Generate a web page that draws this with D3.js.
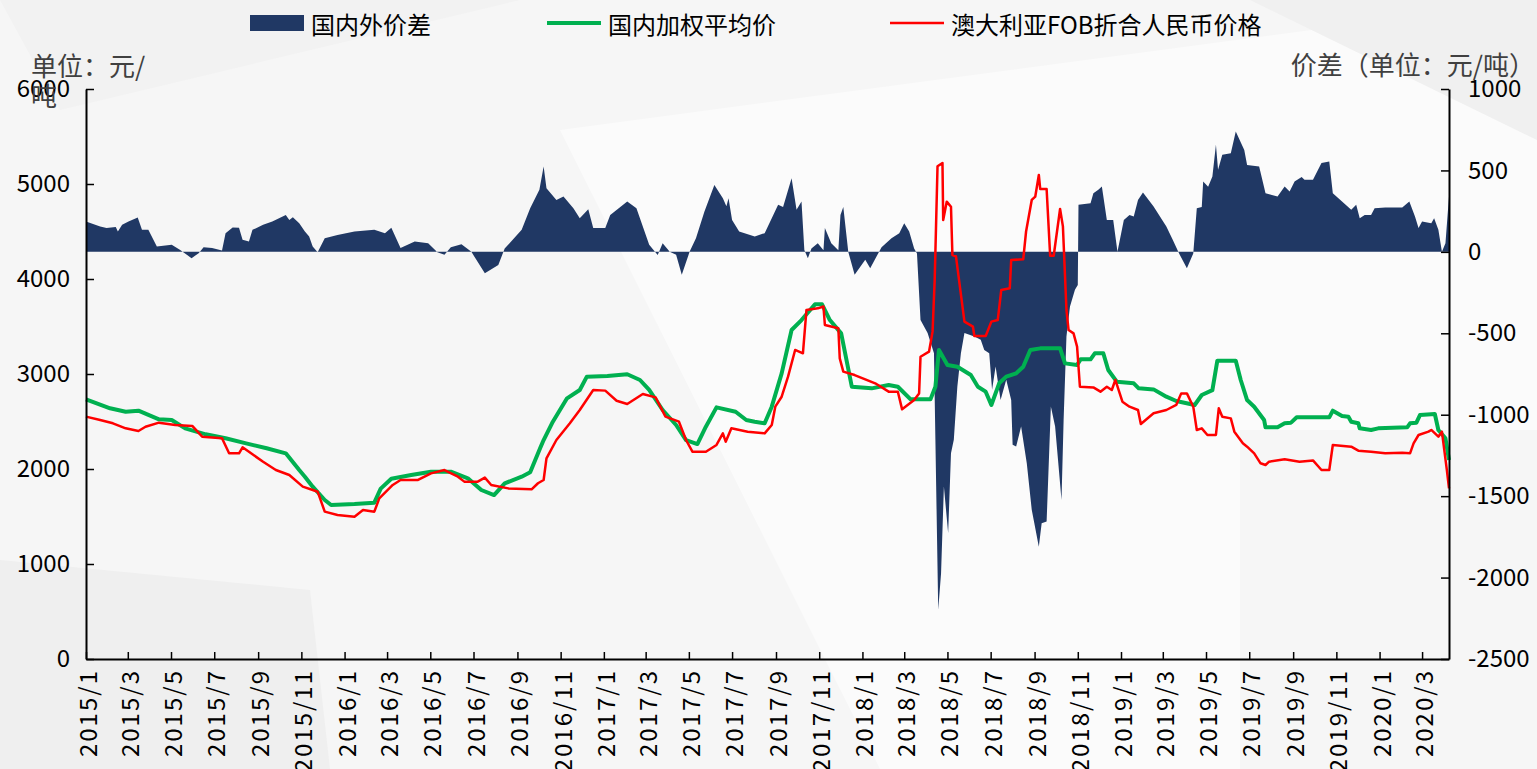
<!DOCTYPE html>
<html>
<head>
<meta charset="utf-8">
<script src="https://cdn.jsdelivr.net/npm/d3@7"></script>
<style>
	body { margin: 0; background: #fff; }
	svg text { font-family: "Noto Sans CJK SC", "Open Sans", sans-serif; }
</style>
</head>
<body>
<svg id="chart" width="1537" height="769"></svg>
<script>

// 国内外价差 (right axis), 国内加权平均价 and 澳大利亚FOB折合人民币价格 (left axis)
const priceGap = [
	["2015-01-01",186],["2015-01-21",155],["2015-01-30",146],["2015-02-12",152],["2015-02-15",125],
	["2015-02-21",166],["2015-03-02",186],["2015-03-15",211],["2015-03-21",135],["2015-03-30",135],
	["2015-04-11",33],["2015-05-02",43],["2015-05-14",12],["2015-05-30",-39],["2015-06-09",-8],
	["2015-06-16",29],["2015-06-28",23],["2015-07-12",8],["2015-07-17",115],["2015-07-27",149],
	["2015-08-05",148],["2015-08-10",74],["2015-08-19",63],["2015-08-24",135],["2015-09-08",166],
	["2015-09-21",186],["2015-10-10",227],["2015-10-15",196],["2015-10-20",213],["2015-10-29",176],
	["2015-11-06",125],["2015-11-12",94],["2015-11-17",33],["2015-11-24",-2],["2015-12-04",84],
	["2015-12-22",104],["2016-01-15",125],["2016-02-12",135],["2016-02-27",115],["2016-03-07",148],
	["2016-03-20",23],["2016-04-09",63],["2016-04-28",53],["2016-05-11",-2],["2016-05-21",-18],
	["2016-05-30",29],["2016-06-14",47],["2016-06-28",0],["2016-07-17",-131],["2016-08-05",-80],
	["2016-08-14",20],["2016-09-07",135],["2016-09-19",268],["2016-10-02",381],["2016-10-08",524],
	["2016-10-12",391],["2016-10-26",319],["2016-11-05",340],["2016-11-19",268],["2016-11-28",207],
	["2016-12-10",262],["2016-12-17",146],["2017-01-03",146],["2017-01-10",227],["2017-02-03",309],
	["2017-02-16",268],["2017-02-25",155],["2017-03-06",43],["2017-03-18",-20],["2017-03-25",53],
	["2017-04-04",0],["2017-04-13",-18],["2017-04-21",-141],["2017-05-02",0],["2017-05-11",84],
	["2017-05-23",248],["2017-06-06",411],["2017-06-18",329],["2017-06-23",280],["2017-06-26",329],
	["2017-07-01",196],["2017-07-11",125],["2017-08-02",94],["2017-08-16",115],["2017-08-26",207],
	["2017-09-04",289],["2017-09-11",276],["2017-09-23",452],["2017-09-30",258],["2017-10-07",309],
	["2017-10-11",12],["2017-10-16",-39],["2017-10-21",20],["2017-10-30",53],["2017-11-07",10],
	["2017-11-09",146],["2017-11-18",53],["2017-11-28",10],["2017-12-01",227],["2017-12-05",276],
	["2017-12-12",0],["2017-12-21",-141],["2018-01-05",-49],["2018-01-12",-100],["2018-01-28",29],
	["2018-02-11",84],["2018-02-22",115],["2018-03-01",176],["2018-03-08",125],["2018-03-15",20],
	["2018-03-19",-10],["2018-03-24",-418],["2018-04-03",-499],["2018-04-12",-622],["2018-04-14",-1154],
	["2018-04-18",-2198],["2018-04-22",-1973],["2018-04-26",-1441],["2018-05-02",-1727],["2018-05-06",-1236],
	["2018-05-10",-1154],["2018-05-15",-827],["2018-05-20",-622],["2018-05-25",-499],["2018-06-08",-520],
	["2018-06-17",-540],["2018-06-22",-602],["2018-06-29",-622],["2018-07-03",-847],["2018-07-08",-704],
	["2018-07-15",-909],["2018-07-23",-786],["2018-07-30",-909],["2018-08-01",-1185],["2018-08-06",-1195],
	["2018-08-13",-1073],["2018-08-21",-1298],["2018-08-28",-1584],["2018-09-07",-1810],["2018-09-11",-1666],
	["2018-09-18",-1656],["2018-09-24",-950],["2018-09-30",-1073],["2018-10-09",-1523],["2018-10-12",-1032],
	["2018-10-16",-520],["2018-10-21",-336],["2018-10-28",-233],["2018-11-01",-203],["2018-11-02",289],
	["2018-11-19",299],["2018-11-23",360],["2018-11-30",381],["2018-12-05",401],["2018-12-12",196],
	["2018-12-21",196],["2018-12-27",0],["2019-01-05",196],["2019-01-13",227],["2019-01-19",217],
	["2019-01-25",319],["2019-02-01",364],["2019-02-16",278],["2019-03-06",155],["2019-03-15",74],
	["2019-03-24",-10],["2019-04-04",-100],["2019-04-13",-10],["2019-04-18",268],["2019-04-25",276],
	["2019-04-27",432],["2019-05-04",400],["2019-05-10",463],["2019-05-15",657],["2019-05-18",504],
	["2019-05-24",596],["2019-06-05",606],["2019-06-12",739],["2019-06-24",626],["2019-06-28",534],
	["2019-07-15",524],["2019-07-24",360],["2019-08-10",340],["2019-08-20",401],["2019-08-27",370],
	["2019-09-03",432],["2019-09-13",459],["2019-09-17",442],["2019-09-29",442],["2019-10-11",545],
	["2019-10-22",555],["2019-10-27",360],["2019-11-09",309],["2019-11-22",258],["2019-11-29",289],
	["2019-12-04",207],["2019-12-11",227],["2019-12-20",227],["2019-12-25",268],["2020-01-09",273],
	["2020-02-02",273],["2020-02-12",309],["2020-02-20",217],["2020-02-25",146],["2020-03-01",186],
	["2020-03-14",176],["2020-03-18",207],["2020-03-24",135],["2020-03-29",0],["2020-04-03",53],
	["2020-04-08",340]
];

const domesticPrice = [
	["2015-01-01",2734],["2015-02-04",2639],["2015-02-26",2603],["2015-03-16",2614],["2015-04-14",2523],
	["2015-05-02",2516],["2015-05-21",2428],["2015-06-19",2365],["2015-07-17",2323],["2015-08-15",2270],
	["2015-09-13",2218],["2015-10-10",2165],["2015-10-29",1989],["2015-11-06",1919],["2015-11-17",1814],
	["2015-12-04",1674],["2015-12-13",1621],["2016-01-15",1632],["2016-02-12",1646],["2016-02-21",1793],
	["2016-03-07",1898],["2016-04-04",1937],["2016-05-02",1972],["2016-05-30",1972],["2016-06-23",1902],
	["2016-07-12",1779],["2016-07-30",1726],["2016-08-14",1849],["2016-09-07",1919],["2016-09-19",1965],
	["2016-10-03",2218],["2016-10-08",2305],["2016-10-21",2498],["2016-11-10",2744],["2016-11-28",2832],
	["2016-12-08",2972],["2017-01-06",2979],["2017-02-03",2997],["2017-02-21",2937],["2017-03-06",2832],
	["2017-03-25",2621],["2017-04-13",2463],["2017-04-27",2305],["2017-05-13",2263],["2017-05-25",2445],
	["2017-06-09",2649],["2017-07-06",2603],["2017-07-21",2516],["2017-08-02",2498],["2017-08-16",2481],
	["2017-08-26",2656],["2017-09-09",3007],["2017-09-23",3463],["2017-10-07",3568],["2017-10-26",3733],
	["2017-11-05",3733],["2017-11-16",3568],["2017-12-02",3428],["2017-12-17",2866],["2018-01-14",2849],
	["2018-02-07",2884],["2018-02-20",2866],["2018-03-10",2733],["2018-04-07",2733],["2018-04-14",2866],
	["2018-04-19",3253],["2018-05-01",3095],["2018-05-15",3077],["2018-06-03",2989],["2018-06-13",2866],
	["2018-06-24",2814],["2018-07-02",2674],["2018-07-13",2902],["2018-07-23",2972],["2018-08-06",3007],
	["2018-08-16",3077],["2018-08-26",3253],["2018-09-09",3270],["2018-10-07",3270],["2018-10-14",3112],
	["2018-10-31",3095],["2018-11-05",3154],["2018-11-19",3154],["2018-11-25",3218],["2018-12-07",3218],
	["2018-12-14",3042],["2018-12-26",2919],["2019-01-19",2902],["2019-01-26",2849],["2019-02-16",2838],
	["2019-03-06",2761],["2019-03-20",2716],["2019-04-15",2674],["2019-04-25",2779],["2019-05-10",2830],
	["2019-05-17",3140],["2019-06-12",3140],["2019-06-19",2937],["2019-06-28",2726],["2019-07-08",2656],
	["2019-07-22",2516],["2019-07-24",2439],["2019-08-10",2439],["2019-08-20",2481],["2019-08-29",2488],
	["2019-09-06",2544],["2019-10-22",2544],["2019-10-27",2614],["2019-11-09",2558],["2019-11-18",2551],
	["2019-11-22",2498],["2019-12-02",2481],["2019-12-04",2428],["2019-12-20",2411],["2019-12-30",2428],
	["2020-02-09",2439],["2020-02-13",2481],["2020-02-22",2488],["2020-02-27",2568],["2020-03-19",2579],
	["2020-03-24",2411],["2020-04-03",2323],["2020-04-08",2095]
];

const fobPrice = [
	["2015-01-01",2551],["2015-01-21",2516],["2015-02-08",2481],["2015-02-26",2428],["2015-03-16",2400],
	["2015-03-26",2445],["2015-04-14",2488],["2015-05-07",2463],["2015-05-31",2453],["2015-06-14",2340],
	["2015-07-12",2323],["2015-07-22",2165],["2015-08-05",2165],["2015-08-10",2228],["2015-08-22",2165],
	["2015-09-08",2077],["2015-09-26",1989],["2015-10-15",1937],["2015-11-03",1814],["2015-11-17",1779],
	["2015-11-24",1761],["2015-12-04",1551],["2015-12-22",1516],["2016-01-15",1498],["2016-01-27",1568],
	["2016-02-12",1551],["2016-02-19",1691],["2016-03-09",1832],["2016-03-20",1884],["2016-04-13",1884],
	["2016-05-02",1954],["2016-05-21",1989],["2016-06-09",1919],["2016-06-18",1867],["2016-07-07",1867],
	["2016-07-17",1909],["2016-07-26",1832],["2016-08-19",1796],["2016-09-21",1786],["2016-09-30",1850],
	["2016-10-08",1884],["2016-10-12",2112],["2016-10-26",2305],["2016-11-14",2481],["2016-11-28",2621],
	["2016-12-17",2832],["2017-01-03",2825],["2017-01-19",2719],["2017-02-03",2684],["2017-02-25",2789],
	["2017-03-15",2754],["2017-03-29",2551],["2017-04-17",2498],["2017-04-27",2305],["2017-05-06",2182],
	["2017-05-25",2182],["2017-06-09",2253],["2017-06-18",2375],["2017-06-22",2288],["2017-06-30",2428],
	["2017-07-23",2393],["2017-08-16",2375],["2017-08-26",2463],["2017-08-31",2656],["2017-09-09",2761],
	["2017-09-18",2972],["2017-09-28",3253],["2017-10-09",3218],["2017-10-14",3674],["2017-10-30",3691],
	["2017-11-07",3711],["2017-11-09",3516],["2017-11-28",3481],["2017-11-30",3165],["2017-12-05",3025],
	["2017-12-21",2989],["2018-01-05",2944],["2018-01-19",2902],["2018-02-07",2814],["2018-02-20",2814],
	["2018-02-26",2628],["2018-03-15",2726],["2018-03-22",2796],["2018-03-24",3182],["2018-04-05",3235],
	["2018-04-10",3446],["2018-04-13",3989],["2018-04-17",5186],["2018-04-24",5221],["2018-04-25",4621],
	["2018-04-30",4814],["2018-05-06",4761],["2018-05-08",4253],["2018-05-13",4240],["2018-05-25",3551],
	["2018-06-06",3498],["2018-06-08",3400],["2018-06-24",3400],["2018-07-02",3551],["2018-07-11",3568],
	["2018-07-16",3884],["2018-07-28",3902],["2018-07-30",4200],["2018-08-16",4207],["2018-08-20",4500],
	["2018-08-28",4832],["2018-09-02",4868],["2018-09-07",5095],["2018-09-09",4947],["2018-09-18",4947],
	["2018-09-23",4245],["2018-09-28",4245],["2018-10-07",4737],["2018-10-11",4554],["2018-10-16",3674],
	["2018-10-19",3463],["2018-10-26",3428],["2018-10-31",3288],["2018-11-04",2866],["2018-11-23",2859],
	["2018-12-03",2814],["2018-12-12",2866],["2018-12-19",2832],["2018-12-24",2937],["2019-01-03",2709],
	["2019-01-13",2656],["2019-01-25",2621],["2019-01-29",2474],["2019-02-16",2586],["2019-03-06",2621],
	["2019-03-20",2674],["2019-03-27",2796],["2019-04-04",2796],["2019-04-13",2656],["2019-04-18",2411],
	["2019-04-25",2428],["2019-05-03",2358],["2019-05-15",2358],["2019-05-19",2639],["2019-05-24",2551],
	["2019-06-05",2533],["2019-06-10",2393],["2019-06-22",2270],["2019-06-28",2235],["2019-07-08",2165],
	["2019-07-17",2060],["2019-07-24",2042],["2019-07-29",2077],["2019-08-20",2102],["2019-09-10",2077],
	["2019-09-29",2090],["2019-10-11",1989],["2019-10-22",1989],["2019-10-27",2253],["2019-11-22",2235],
	["2019-12-02",2193],["2019-12-20",2182],["2020-01-09",2165],["2020-02-02",2172],["2020-02-13",2165],
	["2020-02-18",2270],["2020-02-25",2358],["2020-03-10",2393],["2020-03-14",2411],["2020-03-24",2340],
	["2020-03-29",2393],["2020-04-05",1989],["2020-04-08",1796]
];

const xTickLabels = [
	"2015/1","2015/3","2015/5","2015/7","2015/9","2015/11",
	"2016/1","2016/3","2016/5","2016/7","2016/9","2016/11",
	"2017/1","2017/3","2017/5","2017/7","2017/9","2017/11",
	"2018/1","2018/3","2018/5","2018/7","2018/9","2018/11",
	"2019/1","2019/3","2019/5","2019/7","2019/9","2019/11",
	"2020/1","2020/3"
];
const leftTicks = [0, 1000, 2000, 3000, 4000, 5000, 6000];
const rightTicks = [-2500, -2000, -1500, -1000, -500, 0, 500, 1000];
const dateRange = ["2015-01-01", "2020-04-08"];

const legendLabels = ["国内外价差", "国内加权平均价", "澳大利亚FOB折合人民币价格"];
const leftUnit = ["单位：元/", "吨"];
const rightUnit = "价差（单位：元/吨）";

const colors = { gap: "#203864", domestic: "#00b050", fob: "#ff0000" };

const parseDate = d3.timeParse("%Y-%m-%d");
const parseTick = d3.timeParse("%Y/%m");

const svg = d3.select("#chart");
const W = 1537, H = 769;
const plot = { left: 86, right: 1449, top: 89, bottom: 659 };

// background with soft shapes, like the original slide
svg.append("rect").attr("width", W).attr("height", H).attr("fill", "#f6f6f6");
const bgShapes = [
	{ pts: [[560, 130], [1537, 0], [1537, 430], [1240, 430], [1240, 769], [880, 769]], fill: "#fbfbfb" },
	{ pts: [[1250, 0], [1537, 0], [1537, 140]], fill: "#f0f0f0" },
	{ pts: [[0, 560], [310, 590], [330, 769], [0, 769]], fill: "#efefef" },
	{ pts: [[0, 0], [520, 0], [60, 110]], fill: "#f2f2f2" }
];
svg.append("g").selectAll("polygon")
	.data(bgShapes)
	.enter()
	.append("polygon")
	.attr("points", d => d.pts.map(p => p.join(",")).join(" "))
	.attr("fill", d => d.fill);

// Scales
const x = d3.scaleTime()
	.domain(dateRange.map(parseDate))
	.range([plot.left, plot.right]);

const yLeft = d3.scaleLinear()
	.domain([0, 6000])
	.range([plot.bottom, plot.top]);

const yRight = d3.scaleLinear()
	.domain([-2500, 1000])
	.range([plot.bottom, plot.top]);

// Gap area, drawn from the zero line of the right axis
const gapArea = d3.area()
	.x(d => x(parseDate(d[0])))
	.y0(yRight(0))
	.y1(d => yRight(d[1]));

svg.append("path")
	.datum(priceGap)
	.attr("d", gapArea)
	.attr("fill", colors.gap);

const priceLine = d3.line()
	.x(d => x(parseDate(d[0])))
	.y(d => yLeft(d[1]));

svg.append("path")
	.datum(domesticPrice)
	.attr("d", priceLine)
	.attr("fill", "none")
	.attr("stroke", colors.domestic)
	.attr("stroke-width", 4)
	.attr("stroke-linejoin", "round");

svg.append("path")
	.datum(fobPrice)
	.attr("d", priceLine)
	.attr("fill", "none")
	.attr("stroke", colors.fob)
	.attr("stroke-width", 2.5)
	.attr("stroke-linejoin", "round");

// Axes
const fontSize = 24;
const plainNumber = d => String(d);

const xAxis = svg.append("g")
	.attr("transform", `translate(0,${plot.bottom})`)
	.call(d3.axisBottom(x)
		.tickValues(xTickLabels.map(parseTick))
		.tickSizeInner(-7)
		.tickSizeOuter(0)
		.tickFormat((d, i) => xTickLabels[i]));
xAxis.select(".domain").attr("stroke", "#000").attr("stroke-width", 2);
xAxis.selectAll(".tick line").attr("stroke", "#000").attr("stroke-width", 1.5);
xAxis.selectAll(".tick text")
	.attr("font-size", fontSize)
	.attr("letter-spacing", 2)
	.attr("fill", "#000")
	.attr("text-anchor", "end")
	.attr("dominant-baseline", "central")
	.attr("transform", "rotate(-90)")
	.attr("x", -10)
	.attr("y", 0)
	.attr("dy", null);

const leftAxis = svg.append("g")
	.attr("transform", `translate(${plot.left},0)`)
	.call(d3.axisLeft(yLeft).tickValues(leftTicks).tickFormat(plainNumber)
		.tickSizeInner(-8).tickSizeOuter(0).tickPadding(16));
leftAxis.select(".domain").attr("stroke", "#000").attr("stroke-width", 2);
leftAxis.selectAll(".tick line").attr("stroke", "#000").attr("stroke-width", 1.5);
leftAxis.selectAll(".tick text").attr("font-size", fontSize).attr("fill", "#000");

const rightAxis = svg.append("g")
	.attr("transform", `translate(${plot.right},0)`)
	.call(d3.axisRight(yRight).tickValues(rightTicks).tickFormat(plainNumber)
		.tickSizeInner(-8).tickSizeOuter(0).tickPadding(19));
rightAxis.select(".domain").attr("stroke", "#000").attr("stroke-width", 2);
rightAxis.selectAll(".tick line").attr("stroke", "#000").attr("stroke-width", 1.5);
rightAxis.selectAll(".tick text").attr("font-size", fontSize).attr("fill", "#000");

// Unit labels (the left one wraps onto a second line, as in the original)
const unitSize = 26;
svg.append("text")
	.attr("x", 31).attr("y", 76)
	.attr("font-size", unitSize).attr("fill", "#404040")
	.text(leftUnit[0]);
svg.append("text")
	.attr("x", 31).attr("y", 106)
	.attr("font-size", unitSize).attr("fill", "#404040")
	.text(leftUnit[1]);
svg.append("text")
	.attr("x", 1535).attr("y", 75)
	.attr("text-anchor", "end")
	.attr("font-size", unitSize).attr("fill", "#404040")
	.text(rightUnit);

// Legend
const legend = svg.append("g");
const legendX = [250, 547, 890];
legend.append("rect")
	.attr("x", legendX[0]).attr("y", 15).attr("width", 54).attr("height", 16)
	.attr("fill", colors.gap);
legend.append("line")
	.attr("x1", legendX[1]).attr("x2", legendX[1] + 54).attr("y1", 23).attr("y2", 23)
	.attr("stroke", colors.domestic).attr("stroke-width", 4);
legend.append("line")
	.attr("x1", legendX[2]).attr("x2", legendX[2] + 54).attr("y1", 23).attr("y2", 23)
	.attr("stroke", colors.fob).attr("stroke-width", 2.5);
legend.selectAll("text")
	.data(legendLabels)
	.enter()
	.append("text")
	.attr("x", (d, i) => legendX[i] + 61)
	.attr("y", 23)
	.attr("dominant-baseline", "central")
	.attr("font-size", fontSize)
	.attr("fill", "#000")
	.text(d => d);

</script>
</body>
</html>
